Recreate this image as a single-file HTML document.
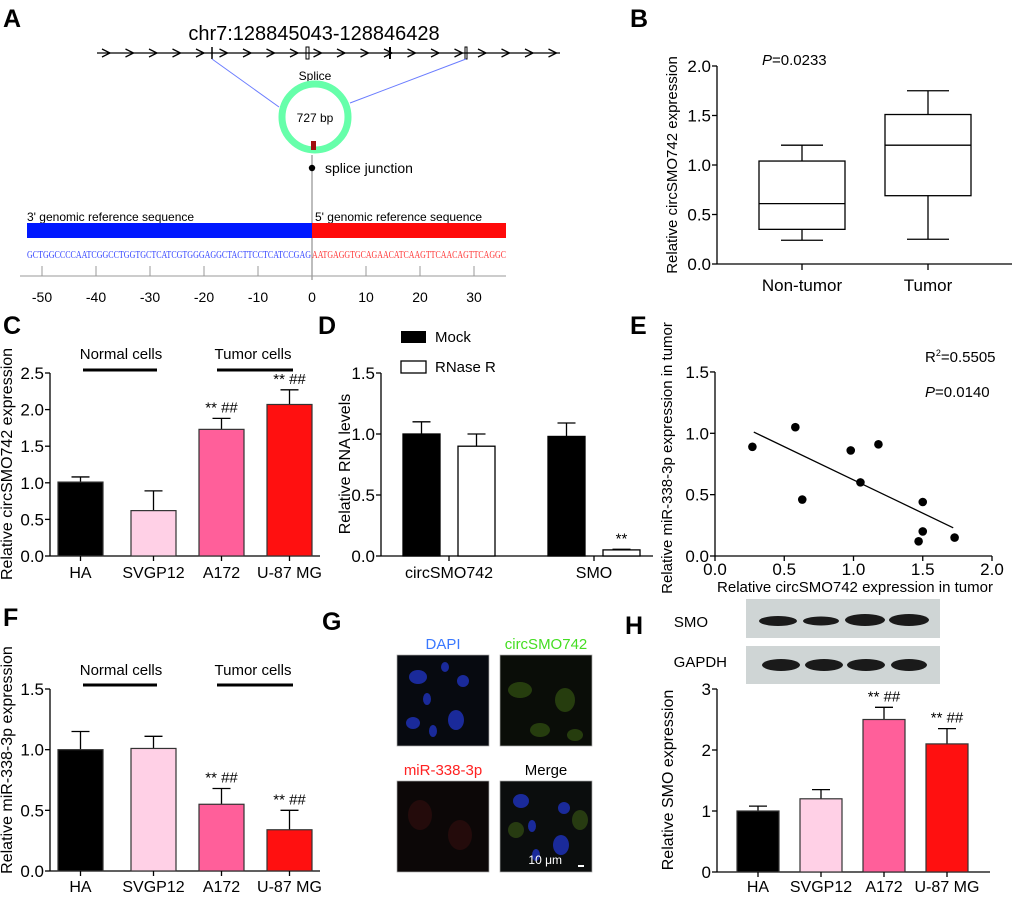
<!DOCTYPE html>
<html><head><meta charset="utf-8"><style>
html,body{margin:0;padding:0;background:#fff}
svg{display:block;font-family:"Liberation Sans",Arial,sans-serif}
</style></head><body>
<svg id="fig" width="1020" height="897" viewBox="0 0 1020 897" xmlns="http://www.w3.org/2000/svg">
<rect width="1020" height="897" fill="#fff"/>
<g font-weight="bold" font-size="25">
<text x="3" y="27">A</text>
<text x="630" y="27">B</text>
<text x="3" y="334">C</text>
<text x="318" y="334">D</text>
<text x="630" y="334">E</text>
<text x="3" y="626">F</text>
<text x="322" y="630">G</text>
<text x="625" y="634">H</text>
</g>
<!-- Panel A -->
<g id="pa">
<text x="314" y="40" font-size="20" text-anchor="middle">chr7:128845043-128846428</text>
<line x1="97" y1="53" x2="560" y2="53" stroke="#000" stroke-width="1.3"/>
<g id="chevrons" fill="none" stroke="#000" stroke-width="1.3"></g>
<line x1="212" y1="47" x2="212" y2="59" stroke="#000" stroke-width="1.5"/>
<rect x="306" y="47" width="3" height="12" fill="none" stroke="#000" stroke-width="1"/>
<line x1="390" y1="47" x2="390" y2="59" stroke="#000" stroke-width="2"/>
<rect x="465" y="47" width="2" height="12" fill="none" stroke="#000" stroke-width="1"/>
<line x1="212" y1="59" x2="279" y2="107" stroke="#6a7cff" stroke-width="1"/>
<line x1="466" y1="59" x2="350" y2="103" stroke="#6a7cff" stroke-width="1"/>
<text x="315" y="80" font-size="12" text-anchor="middle">Splice</text>
<circle cx="315" cy="117" r="33" fill="none" stroke="#66ffaa" stroke-width="7"/>
<rect x="311" y="141" width="5" height="9" fill="#a01010"/>
<text x="315" y="122" font-size="12" text-anchor="middle">727 bp</text>
<line x1="312" y1="155" x2="312" y2="280" stroke="#999" stroke-width="1.3"/>
<circle cx="312" cy="168" r="3.2" fill="#000"/>
<text x="325" y="173" font-size="14">splice junction</text>
<text x="27" y="221" font-size="12">3' genomic reference sequence</text>
<text x="315" y="221" font-size="12">5' genomic reference sequence</text>
<rect x="27" y="223" width="285" height="15" fill="#0018ff"/>
<rect x="312" y="223" width="194" height="15" fill="#ff0a0a"/>
<text x="27" y="258" font-size="10" font-family="Liberation Serif,serif" fill="#3344ff" textLength="284" lengthAdjust="spacingAndGlyphs">GCTGGCCCCAATCGGCCTGGTGCTCATCGTGGGAGGCTACTTCCTCATCCGAG</text>
<text x="312" y="258" font-size="10" font-family="Liberation Serif,serif" fill="#ff3333" textLength="194" lengthAdjust="spacingAndGlyphs">AATGAGGTGCAGAACATCAAGTTCAACAGTTCAGGC</text>
<line x1="20" y1="276" x2="506" y2="276" stroke="#999" stroke-width="1"/>
<g id="aticks" font-size="14" text-anchor="middle"></g>
</g>
<!-- Panel B -->
<g id="pb">
<text x="762" y="65" font-size="15"><tspan font-style="italic">P</tspan>=0.0233</text>
<text transform="translate(677,165) rotate(-90)" font-size="15" text-anchor="middle">Relative circSMO742 expression</text>
</g>
<!-- Panel C -->
<g id="pc">
<text transform="translate(12,464) rotate(-90)" font-size="16" text-anchor="middle">Relative circSMO742 expression</text>
</g>
<!-- Panel D -->
<g id="pd">
<text transform="translate(350,464) rotate(-90)" font-size="16" text-anchor="middle">Relative RNA levels</text>
<rect x="401" y="331" width="25" height="12" fill="#000"/>
<text x="435" y="342" font-size="15">Mock</text>
<rect x="401" y="361" width="25" height="12" fill="#fff" stroke="#000" stroke-width="1.3"/>
<text x="435" y="372" font-size="15">RNase R</text>
</g>
<!-- Panel E -->
<g id="pe">
<text transform="translate(672,458) rotate(-90)" font-size="15" text-anchor="middle">Relative miR-338-3p expression  in tumor</text>
<text x="855" y="592" font-size="15" text-anchor="middle">Relative circSMO742 expression in tumor</text>
<text x="925" y="362" font-size="15">R<tspan font-size="9" dy="-6">2</tspan><tspan dy="6">=0.5505</tspan></text>
<text x="925" y="397" font-size="15"><tspan font-style="italic">P</tspan>=0.0140</text>
</g>
<!-- Panel F -->
<g id="pf">
<text transform="translate(12,760) rotate(-90)" font-size="16" text-anchor="middle">Relative miR-338-3p expression</text>
</g>
<!-- Panel G -->
<g id="pg">
<text x="443" y="649" font-size="15" fill="#3a78ff" text-anchor="middle">DAPI</text>
<text x="546" y="649" font-size="15" fill="#44dd22" text-anchor="middle">circSMO742</text>
<text x="443" y="775" font-size="15" fill="#ff2222" text-anchor="middle">miR-338-3p</text>
<text x="546" y="775" font-size="15" text-anchor="middle">Merge</text>
<rect x="397" y="655" width="92" height="91" fill="#070a10" stroke="#aaa" stroke-width="0.7"/>
<g fill="#1a2a9a"><ellipse cx="418" cy="677" rx="9" ry="7"/><ellipse cx="463" cy="681" rx="6" ry="6"/><ellipse cx="427" cy="699" rx="4" ry="6"/><ellipse cx="413" cy="723" rx="7" ry="6"/><ellipse cx="456" cy="720" rx="8" ry="10"/><ellipse cx="433" cy="731" rx="4" ry="6"/><ellipse cx="445" cy="667" rx="4" ry="5"/></g>
<rect x="500" y="655" width="92" height="91" fill="#0a0d08" stroke="#aaa" stroke-width="0.7"/>
<g fill="#2e4a10" opacity="0.8"><ellipse cx="520" cy="690" rx="12" ry="8"/><ellipse cx="565" cy="700" rx="10" ry="12"/><ellipse cx="540" cy="730" rx="10" ry="7"/><ellipse cx="575" cy="735" rx="8" ry="6"/></g>
<rect x="397" y="781" width="92" height="91" fill="#0c0707" stroke="#aaa" stroke-width="0.7"/>
<g fill="#2a0d0d" opacity="0.8"><ellipse cx="420" cy="815" rx="12" ry="15"/><ellipse cx="460" cy="835" rx="12" ry="15"/></g>
<rect x="500" y="781" width="92" height="91" fill="#0b0d0d" stroke="#aaa" stroke-width="0.7"/>
<g fill="#1a2a9a"><ellipse cx="521" cy="801" rx="8" ry="7"/><ellipse cx="564" cy="808" rx="6" ry="6"/><ellipse cx="532" cy="826" rx="4" ry="6"/><ellipse cx="561" cy="845" rx="8" ry="10"/><ellipse cx="536" cy="855" rx="4" ry="6"/></g>
<g fill="#3a5a14" opacity="0.6"><ellipse cx="516" cy="830" rx="8" ry="8"/><ellipse cx="580" cy="820" rx="8" ry="10"/></g>
<text x="562" y="864" font-size="12" fill="#fff" text-anchor="end">10 μm</text>
<rect x="578" y="865" width="6" height="2" fill="#fff"/>
</g>
<!-- Panel H -->
<g id="ph">
<text x="708" y="627" font-size="15" text-anchor="end">SMO</text>
<text x="727" y="667" font-size="15" text-anchor="end">GAPDH</text>
<rect x="746" y="599" width="194" height="39" fill="#cfd5d5"/>
<rect x="746" y="646" width="194" height="38" fill="#cfd5d5"/>
<g fill="#1a1a1a"><ellipse cx="778" cy="621" rx="19" ry="5"/><ellipse cx="821" cy="621" rx="18" ry="4.5"/><ellipse cx="865" cy="620" rx="20" ry="6"/><ellipse cx="909" cy="620" rx="20" ry="6"/>
<ellipse cx="781" cy="665" rx="19" ry="6"/><ellipse cx="824" cy="665" rx="19" ry="6"/><ellipse cx="866" cy="665" rx="19" ry="6"/><ellipse cx="909" cy="665" rx="18" ry="6"/></g>
<text transform="translate(673,780) rotate(-90)" font-size="16" text-anchor="middle">Relative SMO expression</text>
</g>
</svg>
<script>
// ---------- data ----------
const aTickVals = [-50,-40,-30,-20,-10,0,10,20,30];
const bGroups = ["Non-tumor","Tumor"];
const bMin = [0.24,0.25];
const bQ1 = [0.35,0.69];
const bMed = [0.61,1.20];
const bQ3 = [1.04,1.51];
const bMax = [1.20,1.75];
const bTicks = [0,0.5,1.0,1.5,2.0];
const cellLines = ["HA","SVGP12","A172","U-87 MG"];
const cellColors = ["#000000","#ffd0e6","#ff5f9a","#ff1010"];
const cValues = [1.01,0.62,1.73,2.07];
const cErrors = [0.07,0.27,0.15,0.20];
const cSig = ["","","** ##","** ##"];
const cTicks = [0,0.5,1.0,1.5,2.0,2.5];
const dGroups = ["circSMO742","SMO"];
const dMock = [1.00,0.98];
const dMockErr = [0.10,0.11];
const dRnase = [0.90,0.05];
const dRnaseErr = [0.10,0.005];
const dSig = ["","**"];
const dTicks = [0,0.5,1.0,1.5];
const eX = [0.27,0.58,0.63,0.98,1.05,1.18,1.50,1.50,1.47,1.73];
const eY = [0.89,1.05,0.46,0.86,0.60,0.91,0.44,0.20,0.12,0.15];
const eFitX = [0.28,1.72];
const eFitY = [1.01,0.23];
const eXTicks = [0,0.5,1.0,1.5,2.0];
const eYTicks = [0,0.5,1.0,1.5];
const fValues = [1.00,1.01,0.55,0.34];
const fErrors = [0.15,0.10,0.13,0.16];
const fSig = ["","","** ##","** ##"];
const fTicks = [0,0.5,1.0,1.5];
const hValues = [1.00,1.20,2.50,2.10];
const hErrors = [0.08,0.15,0.20,0.25];
const hSig = ["","","** ##","** ##"];
const hTicks = [0,1,2,3];

const NS="http://www.w3.org/2000/svg";
function mk(parent,tag,attrs,text){const e=document.createElementNS(NS,tag);for(const k in attrs)e.setAttribute(k,attrs[k]);if(text!==undefined)e.textContent=text;parent.appendChild(e);return e;}
function fmt(v,d){return v.toFixed(d);}

// strand chevrons
(function(){const g=document.getElementById('chevrons');
for(let x=110;x<560;x+=23.5){mk(g,'path',{d:'M'+(x-8)+',49 L'+x+',53 L'+(x-8)+',57'});}})();

// Panel A ticks
(function(){const g=document.getElementById('aticks');const xs=v=>312+v*5.4;
aTickVals.forEach(v=>{const x=xs(v);mk(g,'line',{x1:x,y1:266,x2:x,y2:276,stroke:'#999'});
const t=mk(g,'text',{x:x,y:302},String(v));

});})();

function yAxis(g,x0,yScale,ticks,dec,xEnd,fs){
  const top=yScale(ticks[ticks.length-1]),bot=yScale(ticks[0]);
  mk(g,'line',{x1:x0,y1:top,x2:x0,y2:bot,stroke:'#000','stroke-width':1.3});
  mk(g,'line',{x1:x0,y1:bot,x2:xEnd,y2:bot,stroke:'#000','stroke-width':1.3});
  ticks.forEach(v=>{const y=yScale(v);mk(g,'line',{x1:x0-5,y1:y,x2:x0,y2:y,stroke:'#000','stroke-width':1.3});
    const t=mk(g,'text',{x:x0-6,y:y+6,'font-size':fs||17,'text-anchor':'end'},fmt(v,dec));
    
    });
}
function barChart(g,prefix,x0,y0,yTop,vmax,ticks,dec,xs,w,vals,errs,sigs,labY,xEnd,fs){
  const ys=v=>y0-(v/vmax)*(y0-yTop);
  yAxis(g,x0,ys,ticks,dec,xEnd,fs);
  vals.forEach((v,i)=>{const x=xs[i];const cx=x+w/2;
    const ey=ys(v+errs[i]);
    mk(g,'line',{x1:cx,y1:ys(v),x2:cx,y2:ey,stroke:'#000','stroke-width':1.3});
    mk(g,'line',{x1:cx-9,y1:ey,x2:cx+9,y2:ey,stroke:'#000','stroke-width':1.3});
    const r=mk(g,'rect',{x:x,y:ys(v),width:w,height:y0-ys(v),fill:cellColors[i],stroke:'#333','stroke-width':1.2});
    
    
    mk(g,'line',{x1:cx,y1:y0,x2:cx,y2:y0+5,stroke:'#000','stroke-width':1.3});
    const t=mk(g,'text',{x:cx,y:labY,'font-size':16,'text-anchor':'middle'},cellLines[i]);
    
    
    if(sigs[i]){const s=mk(g,'text',{x:cx,y:ey-6,'font-size':15,'text-anchor':'middle'},sigs[i]);
      
      }
  });
}
function groupLabels(g,prefix,yT,yL){
  [[121,83,157,'Normal cells'],[253,217,293,'Tumor cells']].forEach(a=>{
    const t=mk(g,'text',{x:a[0],y:yT,'font-size':15,'text-anchor':'middle'},a[3]);
    
    
    mk(g,'line',{x1:a[1],y1:yL,x2:a[2],y2:yL,stroke:'#000','stroke-width':3});});
}
const barXs=[58,131,199,267];

// Panel B
(function(){const g=document.getElementById('pb');const ys=v=>264-v*99;
  yAxis(g,717,ys,bTicks,1,1012,17);
  const cx=[802,928];
  bGroups.forEach((n,i)=>{const c=cx[i];
    mk(g,'line',{x1:c,y1:ys(bMin[i]),x2:c,y2:ys(bMax[i]),stroke:'#000','stroke-width':1.3});
    mk(g,'line',{x1:c-21,y1:ys(bMin[i]),x2:c+21,y2:ys(bMin[i]),stroke:'#000','stroke-width':1.3});
    mk(g,'line',{x1:c-21,y1:ys(bMax[i]),x2:c+21,y2:ys(bMax[i]),stroke:'#000','stroke-width':1.3});
    const r=mk(g,'rect',{x:c-43,y:ys(bQ3[i]),width:86,height:ys(bQ1[i])-ys(bQ3[i]),fill:'#fff',stroke:'#000','stroke-width':1.3});
    
    
    mk(g,'line',{x1:c-43,y1:ys(bMed[i]),x2:c+43,y2:ys(bMed[i]),stroke:'#000','stroke-width':1.3});
    mk(g,'line',{x1:c,y1:264,x2:c,y2:270,stroke:'#000','stroke-width':1.3});
    const t=mk(g,'text',{x:c,y:291,'font-size':17,'text-anchor':'middle'},n);
    
    });})();

// Panel C
(function(){const g=document.getElementById('pc');
  groupLabels(g,'c',359,370);
  barChart(g,'c',50,556,373,2.5,cTicks,1,barXs,45,cValues,cErrors,cSig,578,320);})();

// Panel D
(function(){const g=document.getElementById('pd');const ys=v=>556-v*122;
  yAxis(g,381,ys,dTicks,1,653,17);
  const mx=[403,548],rx=[458,603],w=37;
  dGroups.forEach((n,i)=>{
    [[mx[i],dMock[i],dMockErr[i],'#000','mock'],[rx[i],dRnase[i],dRnaseErr[i],'#fff','rnase']].forEach(b=>{
      const cx=b[0]+w/2,ey=ys(b[1]+b[2]);
      mk(g,'line',{x1:cx,y1:ys(b[1]),x2:cx,y2:ey,stroke:'#000','stroke-width':1.3});
      mk(g,'line',{x1:cx-9,y1:ey,x2:cx+9,y2:ey,stroke:'#000','stroke-width':1.3});
      const r=mk(g,'rect',{x:b[0],y:ys(b[1]),width:w,height:556-ys(b[1]),fill:b[3],stroke:'#000','stroke-width':1.3});
      
      });
    const c=(mx[i]+rx[i]+w)/2;
    mk(g,'line',{x1:c,y1:556,x2:c,y2:561,stroke:'#000','stroke-width':1.3});
    const t=mk(g,'text',{x:c,y:578,'font-size':16,'text-anchor':'middle'},n);
    
    
    if(dSig[i]){const s=mk(g,'text',{x:rx[i]+w/2,y:ys(dRnase[i]+dRnaseErr[i])-6,'font-size':15,'text-anchor':'middle'},dSig[i]);
      
      }
  });})();

// Panel E
(function(){const g=document.getElementById('pe');const ys=v=>556-v*122.7;const xs=v=>715+v*138.5;
  yAxis(g,715,ys,eYTicks,1,992,17);
  eXTicks.forEach(v=>{const x=xs(v);mk(g,'line',{x1:x,y1:556,x2:x,y2:561,stroke:'#000','stroke-width':1.3});
    const t=mk(g,'text',{x:x,y:575,'font-size':17,'text-anchor':'middle'},fmt(v,1));
    
    });
  const l=mk(g,'line',{x1:xs(eFitX[0]),y1:ys(eFitY[0]),x2:xs(eFitX[1]),y2:ys(eFitY[1]),stroke:'#000','stroke-width':1.3});
  
  
  eX.forEach((x,i)=>{const c=mk(g,'circle',{cx:xs(x),cy:ys(eY[i]),r:4.3,fill:'#000'});
    
    });})();

// Panel F
(function(){const g=document.getElementById('pf');
  groupLabels(g,'f',675,685);
  barChart(g,'f',50,871,689,1.5,fTicks,1,barXs,45,fValues,fErrors,fSig,892,320);})();

// Panel H
(function(){const g=document.getElementById('ph');
  barChart(g,'h',717,872,689,3,hTicks,0,[737,800,863,926],42,hValues,hErrors,hSig,892,990);})();
</script>
</body></html>
